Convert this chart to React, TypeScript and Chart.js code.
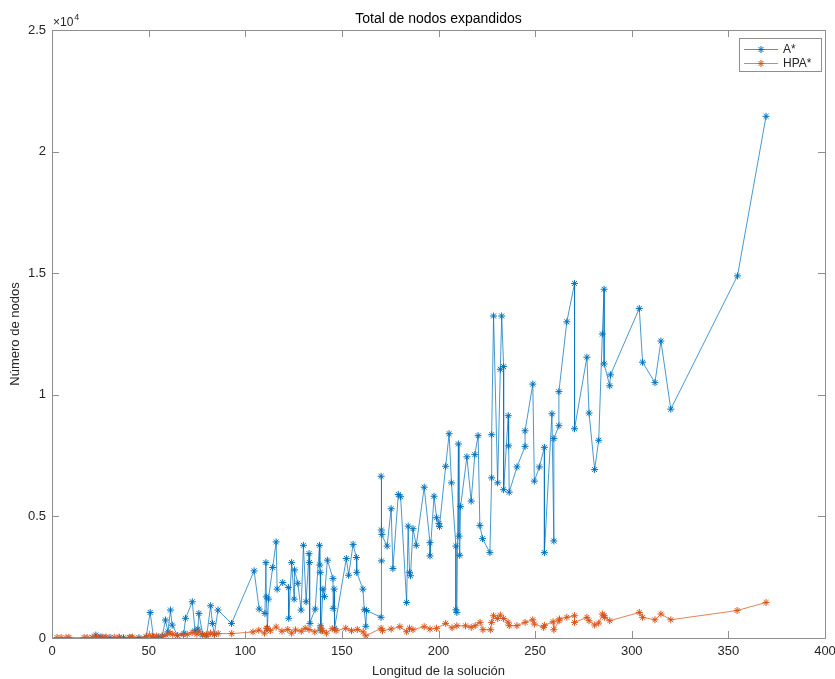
import React, { useEffect, useRef } from 'react';
import { Chart, registerables } from 'chart.js';

Chart.register(...registerables);

// A* : solution length vs expanded nodes
const aStarX = [22.7, 25.3, 27.5, 30, 34.8, 37, 40.9, 45, 48.7, 50.8, 52.5, 55, 57, 58.7, 60, 61.3, 62.2, 65, 68.2, 69.1, 72.6, 74, 75.5, 76, 78, 80, 82.1, 83, 84, 85.9, 92.9, 104.6, 107.2, 110.2, 110.7, 110.9, 111.5, 112, 114.2, 116, 116.5, 119.4, 122.3, 122.5, 124, 125.3, 125.5, 127.2, 128.9, 130.1, 131.5, 133, 133.2, 133.5, 136.2, 138.4, 138.6, 138.8, 139, 139.2, 140.2, 141, 142.5, 145.4, 145.5, 146, 146.2, 152.3, 153.5, 155.8, 157.5, 157.7, 160.9, 161.6, 162.4, 162.8, 170.3, 170.3, 170.4, 170.5, 170.7, 173.4, 175.5, 176.4, 179.2, 180.4, 183.5, 184.3, 185, 185.5, 186.8, 188.5, 192.6, 195.6, 195.6, 197.7, 199, 200.2, 200.5, 203.7, 205.5, 206.7, 209, 209, 209.5, 210.3, 210.6, 211, 211.4, 214.7, 216.9, 218.8, 220.5, 221.4, 222.8, 226.6, 227.5, 227.5, 228.5, 230.6, 232, 232.7, 233.7, 233.7, 236.1, 236.3, 236.6, 240.6, 244.8, 244.8, 248.8, 249.6, 252.2, 254.8, 254.8, 258.7, 259.7, 259.7, 262.3, 262.3, 266.4, 270.4, 270.4, 276.8, 277.9, 280.8, 282.9, 284.8, 285.7, 285.7, 288.6, 289, 303.9, 305.6, 312, 315.1, 320.2, 354.7, 369.5];
const aStarY = [120, 40, 10, 20, 15, 10, 10, 15, 40, 1050, 30, 40, 60, 740, 250, 1150, 530, 100, 190, 810, 1490, 300, 370, 1010, 150, 80, 1325, 600, 150, 1150, 600, 2760, 1190, 1010, 3100, 1690, 400, 1600, 2900, 3950, 2010, 2280, 2080, 810, 3100, 1600, 2800, 2250, 1150, 3810, 1490, 3470, 3100, 600, 1190, 3810, 3000, 2700, 500, 300, 2010, 1700, 3200, 2450, 1220, 2010, 400, 3270, 2580, 3850, 3310, 2700, 2010, 1160, 480, 1130, 850, 6650, 4440, 3170, 4260, 3780, 5315, 2855, 5900, 5807, 1460, 4600, 2700, 2560, 4495, 3810, 6200, 3920, 3375, 5830, 4945, 4713, 4580, 7060, 8400, 6380, 3780, 1160, 1050, 7980, 4190, 3400, 5400, 7450, 5630, 7540, 8320, 4630, 4085, 3510, 6585, 8360, 13240, 6380, 11050, 13240, 11160, 6100, 9140, 7900, 5995, 7035, 7880, 8520, 10440, 6450, 7035, 7840, 3510, 9220, 3990, 8200, 8730, 10130, 13000, 14580, 8605, 11545, 9250, 6925, 8130, 12500, 14340, 11270, 10370, 10820, 13550, 11340, 10500, 12210, 9410, 14890, 21450];

// HPA* : solution length vs expanded nodes
const hpaX = [2.6, 4.7, 7.3, 8.8, 16.6, 18.2, 20.8, 22.9, 24.4, 26, 28, 32.2, 34.8, 40, 41.6, 48.8, 50.4, 52, 54, 57, 59, 61, 62.5, 65, 68, 70, 72.5, 75, 76, 78, 80, 82, 84, 86, 93, 104, 107, 110, 111, 113, 116, 119, 122, 124, 126, 129, 131, 133, 136, 139, 140, 142, 145, 147, 152, 155, 158, 161, 162.4, 170.3, 171, 175.5, 180, 183.5, 185, 186.8, 192.6, 195.6, 199, 203.7, 207, 209.5, 214, 216.9, 219, 221.5, 223, 227, 227.5, 228.5, 230.6, 232, 233.7, 236, 236.6, 240.6, 244.8, 248.8, 249.6, 254.4, 254.8, 259.3, 259.7, 262.4, 262.6, 266.4, 270.4, 270.4, 276.8, 277.9, 280.8, 282.9, 284.8, 285.7, 286, 288.6, 303.9, 305.6, 312, 315.1, 320.2, 354.5, 369.5];
const hpaY = [20, 20, 15, 25, 20, 15, 30, 40, 25, 30, 40, 30, 35, 30, 40, 50, 120, 60, 80, 90, 120, 200, 150, 100, 130, 150, 220, 160, 250, 120, 140, 200, 150, 180, 180, 250, 320, 200, 400, 300, 450, 280, 350, 200, 330, 280, 400, 350, 250, 420, 300, 200, 380, 300, 400, 300, 350, 250, 90, 400, 300, 370, 465, 258, 400, 340, 465, 370, 400, 600, 420, 500, 500, 440, 505, 643, 340, 340, 643, 915, 800, 943, 800, 650, 505, 505, 643, 750, 574, 440, 520, 670, 340, 710, 780, 850, 915, 640, 850, 710, 533, 615, 985, 915, 850, 710, 1050, 850, 750, 985, 750, 1130, 1460];

const xTicks = [0, 50, 100, 150, 200, 250, 300, 350, 400];
const yTicks = [0, 5000, 10000, 15000, 20000, 25000];
const yTickLabels = ['0', '0.5', '1', '1.5', '2', '2.5'];

const BLUE = '#0072BD';
const ORANGE = '#D95319';
const BLUE_LINE = 'rgba(0,114,189,0.72)';
const ORANGE_LINE = 'rgba(217,83,25,0.72)';
const TEXT = '#262626';
const FONT = '"Liberation Sans", Arial, sans-serif';

const decorPlugin = {
  id: 'decor',
  afterDraw(chart: any) {
    const { ctx, chartArea } = chart;
    const { left, right, top, bottom } = chartArea;
    const xs = chart.scales.x;
    const ys = chart.scales.y;
    ctx.save();
    // frame
    ctx.strokeStyle = '#8f8f8f';
    ctx.lineWidth = 1;
    ctx.strokeRect(Math.round(left) + 0.5, Math.round(top) + 0.5, Math.round(right - left), Math.round(bottom - top));
    // inward ticks
    const tl = 7;
    ctx.beginPath();
    xTicks.forEach((t) => {
      const px = Math.round(xs.getPixelForValue(t)) + 0.5;
      ctx.moveTo(px, bottom);
      ctx.lineTo(px, bottom - tl);
      ctx.moveTo(px, top);
      ctx.lineTo(px, top + tl);
    });
    yTicks.forEach((t) => {
      const py = Math.round(ys.getPixelForValue(t)) + 0.5;
      ctx.moveTo(left, py);
      ctx.lineTo(left + tl, py);
      ctx.moveTo(right, py);
      ctx.lineTo(right - tl, py);
    });
    ctx.stroke();

    // exponent
    ctx.fillStyle = TEXT;
    ctx.textBaseline = 'alphabetic';
    ctx.textAlign = 'left';
    ctx.font = `12px ${FONT}`;
    ctx.fillText('\u00d710', left + 1, top - 4);
    const w = ctx.measureText('\u00d710').width;
    ctx.font = `9px ${FONT}`;
    ctx.fillText('4', left + 1 + w + 1, top - 10);

    // title
    ctx.font = `14px ${FONT}`;
    ctx.textAlign = 'center';
    ctx.textBaseline = 'middle';
    ctx.fillStyle = '#000';
    ctx.fillText('Total de nodos expandidos', (left + right) / 2, 19);

    // axis labels
    ctx.fillStyle = TEXT;
    ctx.font = `13px ${FONT}`;
    ctx.fillText('Longitud de la soluci\u00f3n', (left + right) / 2, 671);
    ctx.save();
    ctx.translate(15, (top + bottom) / 2);
    ctx.rotate(-Math.PI / 2);
    ctx.fillText('N\u00famero de nodos', 0, 0);
    ctx.restore();

    // legend
    const lx = 739, ly = 38, lw = 82, lh = 33;
    ctx.fillStyle = '#fff';
    ctx.fillRect(lx, ly, lw, lh);
    ctx.strokeStyle = '#8f8f8f';
    ctx.strokeRect(lx + 0.5, ly + 0.5, lw, lh);
    const entries = [
      { label: 'A*', color: BLUE, line: BLUE_LINE, y: 49 },
      { label: 'HPA*', color: ORANGE, line: ORANGE_LINE, y: 63 },
    ];
    entries.forEach((e) => {
      ctx.strokeStyle = e.line;
      ctx.lineWidth = 1;
      ctx.beginPath();
      ctx.moveTo(744, e.y + 0.5);
      ctx.lineTo(778, e.y + 0.5);
      ctx.stroke();
      // star marker
      ctx.strokeStyle = e.color;
      const cx = 761, cy = e.y + 0.5, r = 3.5;
      ctx.beginPath();
      ctx.moveTo(cx - r, cy); ctx.lineTo(cx + r, cy);
      ctx.moveTo(cx, cy - r); ctx.lineTo(cx, cy + r);
      const d = r * 0.7071;
      ctx.moveTo(cx - d, cy - d); ctx.lineTo(cx + d, cy + d);
      ctx.moveTo(cx - d, cy + d); ctx.lineTo(cx + d, cy - d);
      ctx.stroke();
      ctx.fillStyle = TEXT;
      ctx.font = `12px ${FONT}`;
      ctx.textAlign = 'left';
      ctx.textBaseline = 'middle';
      ctx.fillText(e.label, 783, e.y + 1);
    });
    ctx.restore();
  },
};

export default function App() {
  const ref = useRef<HTMLCanvasElement | null>(null);
  useEffect(() => {
    if (!ref.current) return;
    const toPts = (xs: number[], ys: number[]) => xs.map((x, i) => ({ x, y: ys[i] }));
    const chart = new Chart(ref.current, {
      type: 'scatter',
      data: {
        datasets: [
          {
            label: 'A*',
            data: toPts(aStarX, aStarY),
            showLine: true,
            borderColor: BLUE_LINE,
            backgroundColor: BLUE,
            borderWidth: 1,
            pointStyle: 'star',
            pointRadius: 3.5,
            pointBorderWidth: 1,
            pointBorderColor: BLUE,
            order: 2,
          },
          {
            label: 'HPA*',
            data: toPts(hpaX, hpaY),
            showLine: true,
            borderColor: ORANGE_LINE,
            backgroundColor: ORANGE,
            borderWidth: 1,
            pointStyle: 'star',
            pointRadius: 3.5,
            pointBorderWidth: 1,
            pointBorderColor: ORANGE,
            order: 1,
          },
        ],
      },
      options: {
        animation: false,
        responsive: false,
        layout: { padding: { top: 30, right: 10, left: 0, bottom: 0 } },
        plugins: { legend: { display: false }, tooltip: { enabled: false }, title: { display: false } },
        scales: {
          x: {
            type: 'linear',
            min: 0,
            max: 400,
            afterBuildTicks: (s: any) => { s.ticks = xTicks.map((v) => ({ value: v })); },
            afterFit: (s: any) => { s.height = 41; s.paddingLeft = 0; s.paddingRight = 0; },
            grid: { display: false, drawTicks: false },
            border: { display: false },
            ticks: { padding: 6, color: TEXT, font: { family: FONT, size: 13 }, maxRotation: 0, autoSkip: false },
          },
          y: {
            type: 'linear',
            min: 0,
            max: 25000,
            afterBuildTicks: (s: any) => { s.ticks = yTicks.map((v) => ({ value: v })); },
            afterFit: (s: any) => { s.width = 52; s.paddingTop = 0; s.paddingBottom = 0; },
            grid: { display: false, drawTicks: false },
            border: { display: false },
            ticks: {
              padding: 6,
              color: TEXT,
              font: { family: FONT, size: 13 },
              autoSkip: false,
              callback: (v: any) => yTickLabels[yTicks.indexOf(Number(v))] ?? '',
            },
          },
        },
      },
      plugins: [decorPlugin],
    });
    return () => chart.destroy();
  }, []);
  return (
    <div style={{ position: 'absolute', left: 0, top: 0, width: 835, height: 679, background: '#fff' }}>
      <canvas ref={ref} width={835} height={679} style={{ width: 835, height: 679, display: 'block' }} />
    </div>
  );
}
